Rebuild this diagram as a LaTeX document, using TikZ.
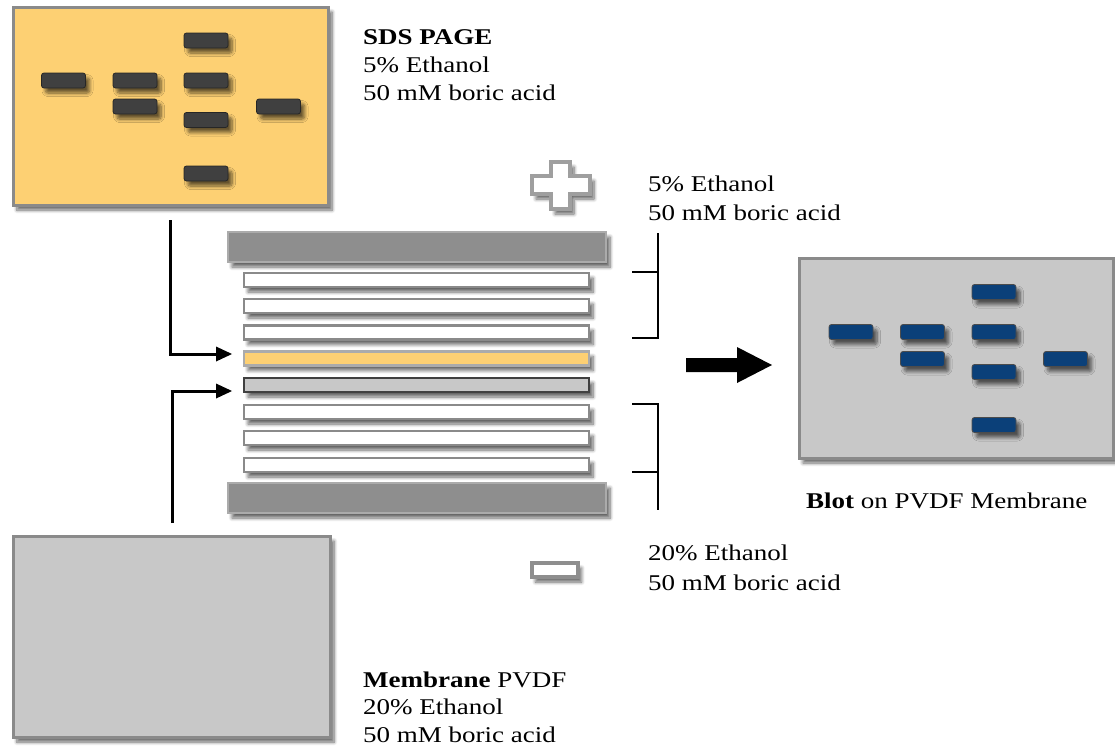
\documentclass[tikz,border=0pt]{standalone}
\usepackage{fontspec}
\setmainfont{Liberation Serif}[FakeStretch=1.2]
\usetikzlibrary{shadows.blur}

\definecolor{gelfill}{HTML}{FDD073}
\definecolor{boxline}{HTML}{8A8A8A}
\definecolor{memfill}{HTML}{C8C8C8}
\definecolor{bandgray}{HTML}{404040}
\definecolor{bandblue}{HTML}{0B4079}
\definecolor{barfill}{HTML}{8E8E8E}
\definecolor{barline}{HTML}{ABABAB}

\tikzset{
  softshadow/.style={blur shadow={shadow xshift=4pt, shadow yshift=-5pt,
      shadow blur radius=3.5pt, shadow blur steps=7, shadow opacity=60}},
  bigbox/.style={draw=boxline, line width=3pt, inner sep=0pt, softshadow},
  band/.style={minimum width=44pt, minimum height=15pt, inner sep=0pt,
      rounded corners=2.5pt, line width=0.8pt, softshadow},
  gelband/.style={band, fill=bandgray, draw=black!85},
  blotband/.style={band, fill=bandblue, draw=black!70},
  plate/.style={minimum width=378pt, minimum height=30pt, inner sep=0pt,
      fill=barfill, draw=barline, line width=2pt, softshadow},
  sheet/.style={minimum width=345pt, minimum height=14pt, inner sep=0pt,
      fill=white, draw=boxline, line width=2.4pt, softshadow},
  txt/.style={anchor=base west, inner sep=0pt, font=\fontsize{22.5}{28}\selectfont},
  feed/.style={line width=3pt},
  bracket/.style={line width=2.6pt, miter limit=10},
}

\begin{document}
\begin{tikzpicture}[x=1pt,y=-1pt]
\useasboundingbox (0,0) rectangle (1115,753);

% ---------- SDS gel ----------
\node[bigbox, fill=gelfill, minimum width=315pt, minimum height=198pt] (gel) at (170.5,106) {};
\node[gelband] (ga1) at (63.5,80.5) {};
\node[gelband] (gb1) at (135,80.5) {};
\node[gelband] (gb2) at (135,106.5) {};
\node[gelband] (gc1) at (206,40.5) {};
\node[gelband] (gc2) at (206,80.5) {};
\node[gelband] (gc3) at (206,120) {};
\node[gelband] (gc4) at (206,173.5) {};
\node[gelband] (gd1) at (278.5,106.5) {};

\node[txt] (sdsA) at (363,44) {\textbf{SDS PAGE}};
\node[txt] (sdsB) at (363,72) {5\% Ethanol};
\node[txt] (sdsC) at (363,100) {50 mM boric acid};

% ---------- membrane ----------
\node[bigbox, fill=memfill, minimum width=317pt, minimum height=201pt] (mem) at (171.5,636.5) {};
\node[txt] (memA) at (363,687) {\textbf{Membrane} PVDF};
\node[txt] (memB) at (363,714) {20\% Ethanol};
\node[txt] (memC) at (363,742) {50 mM boric acid};

% ---------- blotting stack ----------
\node[plate] (topplate) at (417,247) {};
\node[sheet] (s1) at (416.5,280) {};
\node[sheet] (s2) at (416.5,306) {};
\node[sheet] (s3) at (416.5,332.5) {};
\node[sheet, fill=gelfill, draw=barline] (sgel) at (416.5,358.5) {};
\node[sheet, fill=memfill, draw=bandgray] (smem) at (416.5,385) {};
\node[sheet] (s6) at (416.5,412) {};
\node[sheet] (s7) at (416.5,438) {};
\node[sheet] (s8) at (416.5,465) {};
\node[plate] (botplate) at (417,498) {};

% electrodes
\draw[draw=barfill!85, line width=4pt, fill=white, softshadow]
  (551,162) -- (570,162) -- (570,176) -- (590,176) -- (590,194) -- (570,194)
  -- (570,209) -- (551,209) -- (551,194) -- (532,194) -- (532,176) -- (551,176) -- cycle;
\node[draw=barfill, line width=4pt, fill=white, minimum width=46pt, minimum height=14pt,
  inner sep=0pt, softshadow] (minus) at (554.5,570) {};

% buffer labels and brackets
\node[txt] (upA) at (648,191) {5\% Ethanol};
\node[txt] (upB) at (648,220) {50 mM boric acid};
\node[txt] (loA) at (648,560) {20\% Ethanol};
\node[txt] (loB) at (648,590) {50 mM boric acid};

\coordinate (ubTop) at (658,233);
\coordinate (ubMid) at (632,272);
\coordinate (ubEnd) at (632,338);
\draw[bracket] (ubTop) -- (ubTop |- ubEnd) -- (ubEnd);
\draw[bracket] (ubMid) -- (ubTop |- ubMid);

\coordinate (lbEnd) at (632,404);
\coordinate (lbMid) at (632,472);
\coordinate (lbBot) at (658,510);
\draw[bracket] (lbEnd) -- (lbBot |- lbEnd) -- (lbBot);
\draw[bracket] (lbMid) -- (lbBot |- lbMid);

% feeds into the stack: shaft, then a solid triangular head
\coordinate (gelFeed) at (170,220);
\coordinate (gelBase) at (217,354);
\coordinate (gelIn) at (232,354);
\coordinate (memFeed) at (172,523);
\coordinate (memBase) at (217,391);
\coordinate (memIn) at (232,391);
\draw[feed] (gelFeed) |- (gelBase);
\fill (gelIn) -- ++(-16,-7.5) -- ++(0,15) -- cycle;
\draw[feed] (memFeed) |- (memBase);
\fill (memIn) -- ++(-16,-7.5) -- ++(0,15) -- cycle;

% transfer arrow
\coordinate (tA) at (686,365);
\coordinate (tB) at (772,365);
\fill (tA) ++(0,-7) -- ++(51,0) -- ++(0,-11) -- (tB) -- ++(-35,18) -- ++(0,-11)
  -- ++(-51,0) -- cycle;

% ---------- blot ----------
\node[bigbox, fill=memfill, minimum width=314pt, minimum height=200pt] (blot) at (956,358) {};
\node[blotband] (ba1) at (851,332) {};
\node[blotband] (bb1) at (922.5,332) {};
\node[blotband] (bb2) at (922.5,359) {};
\node[blotband] (bc1) at (994,292) {};
\node[blotband] (bc2) at (994,332) {};
\node[blotband] (bc3) at (994,372) {};
\node[blotband] (bc4) at (994,425) {};
\node[blotband] (bd1) at (1065.5,359) {};

\node[txt] (blotlabel) at (806,508) {\textbf{Blot} on PVDF Membrane};
\end{tikzpicture}
\end{document}
